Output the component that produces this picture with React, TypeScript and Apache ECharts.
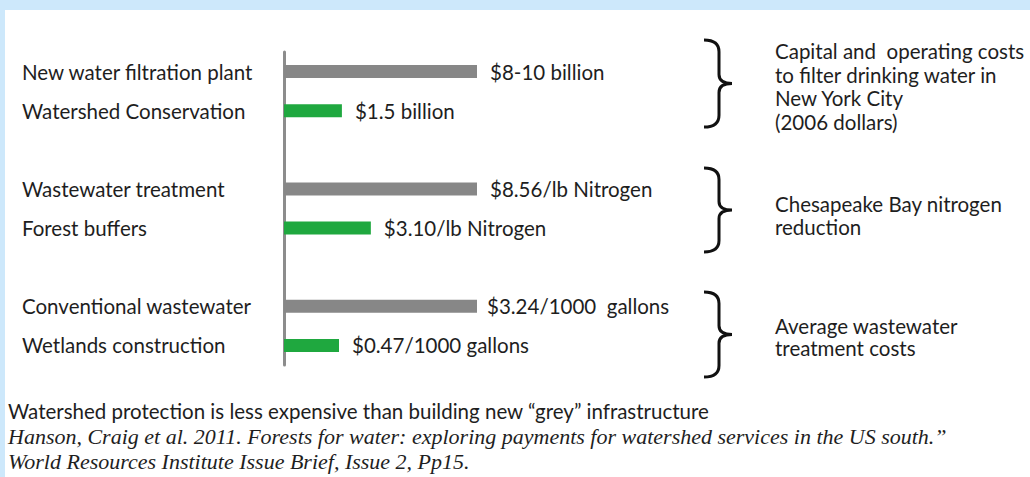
import React, { useEffect, useRef } from "react";
import * as echarts from "echarts";

const categories = [
  "New water filtration plant",
  "Watershed Conservation",
  " ",
  "Wastewater treatment",
  "Forest buffers",
  "  ",
  "Conventional wastewater",
  "Wetlands construction",
];
// relative bar lengths as drawn (grey bars share one length)
const barValues: (number | string)[] = [100, 30, "-", 100, 45, "-", 100, 28.5];
const barKinds = ["grey", "green", "", "grey", "green", "", "grey", "green"];
const valueLabels = [
  "$8-10 billion",
  "$1.5 billion",
  "",
  "$8.56/lb Nitrogen",
  "$3.10/lb Nitrogen",
  "",
  "$3.24/1000  gallons",
  "$0.47/1000 gallons",
];
const groupNotes = [
  ["Capital and  operating costs", "to filter drinking water in", "New York City", "(2006 dollars)"],
  ["Chesapeake Bay nitrogen", "reduction"],
  ["Average wastewater", "treatment costs"],
];
const footerMain = "Watershed protection is less expensive than building new \u201Cgrey\u201D infrastructure";
const footerCite = [
  "Hanson, Craig et al. 2011. Forests for water: exploring payments for watershed services in the US south.\u201D",
  "World Resources Institute Issue Brief, Issue 2, Pp15.",
];

const GREY = "#878787";
const GREEN = "#1fa83f";
const TEXT = "#1e1e1e";
const SANS = "Lato, 'Open Sans', sans-serif";
const FS = 20.5;

const BRACE_D =
  "M0,0 C9,0 15,3 15,12 L15,35 C15,41 19,44 28,44 C19,44 15,47 15,53 L15,76 C15,85 9,88 0,88";

let registered = false;

export default function App() {
  const ref = useRef<HTMLDivElement>(null);
  useEffect(() => {
    if (!ref.current) return;
    if (!registered) {
      echarts.graphic.registerShape("brace", echarts.graphic.extendPath(BRACE_D, {}) as any);
      registered = true;
    }
    const chart = echarts.init(ref.current, null, { renderer: "svg" });

    const braces = [
      { top: 40, bottom: 127 },
      { top: 168, bottom: 252 },
      { top: 292, bottom: 377 },
    ];
    const noteTop = [51, 204, 326];
    const noteLH = [23.5, 23, 22];

    const graphic: any[] = [
      { type: "rect", z: 0, shape: { x: 5, y: 10, width: 1025, height: 467 }, style: { fill: "#ffffff" } },
    ];
    braces.forEach((b) => {
      graphic.push({
        type: "brace",
        z: 10,
        x: 704,
        y: b.top,
        scaleX: 1,
        scaleY: (b.bottom - b.top) / 88,
        style: { fill: "none", stroke: "#111111", lineWidth: 3 },
      });
    });
    groupNotes.forEach((lines, gi) => {
      lines.forEach((t, li) => {
        graphic.push({
          type: "text",
          z: 10,
          x: 775,
          y: noteTop[gi] + li * noteLH[gi],
          style: {
            text: t,
            fill: TEXT,
            font: `${FS}px ${SANS}`,
            lineHeight: 21,
            verticalAlign: "middle",
          },
        });
      });
    });
    graphic.push({
      type: "text",
      z: 10,
      x: 8,
      y: 411,
      style: {
        text: footerMain,
        fill: TEXT,
        font: `${FS}px ${SANS}`,
        lineHeight: 20,
        verticalAlign: "middle",
      },
    });
    footerCite.forEach((t, i) => {
      graphic.push({
        type: "text",
        z: 10,
        x: 8,
        y: 436 + i * 25.5,
        style: {
          text: t,
          fill: TEXT,
          font: `italic 22px 'Liberation Serif', 'Times New Roman', serif`,
          lineHeight: 20,
          verticalAlign: "middle",
        },
      });
    });

    chart.setOption({
      animation: false,
      backgroundColor: "#cde8fb",
      grid: { left: 284, top: 52, height: 313, width: 193, containLabel: false },
      xAxis: { type: "value", min: 0, max: 100, show: false },
      yAxis: {
        type: "category",
        inverse: true,
        data: categories,
        axisLine: { show: true, lineStyle: { color: "#8c8c8c", width: 3 } },
        axisTick: { show: false },
        splitLine: { show: false },
        axisLabel: {
          align: "left",
          margin: 262,
          color: TEXT,
          fontSize: FS,
          fontFamily: SANS,
          padding: [0, 0, 8, 0],
        },
      },
      series: [
        {
          type: "bar",
          barWidth: 13,
          data: barValues.map((v, i) => ({
            value: v,
            itemStyle: { color: barKinds[i] === "grey" ? GREY : GREEN },
            label: { distance: i === 6 ? 10 : 13 },
          })),
          label: {
            show: true,
            position: "right",
            color: TEXT,
            fontSize: FS,
            fontFamily: SANS,
            formatter: (p: any) => valueLabels[p.dataIndex],
          },
        },
      ],
      graphic,
    });
    return () => chart.dispose();
  }, []);
  return (
    <div
      ref={ref}
      style={{ position: "fixed", left: 0, top: 0, width: 1030, height: 477 }}
    />
  );
}
